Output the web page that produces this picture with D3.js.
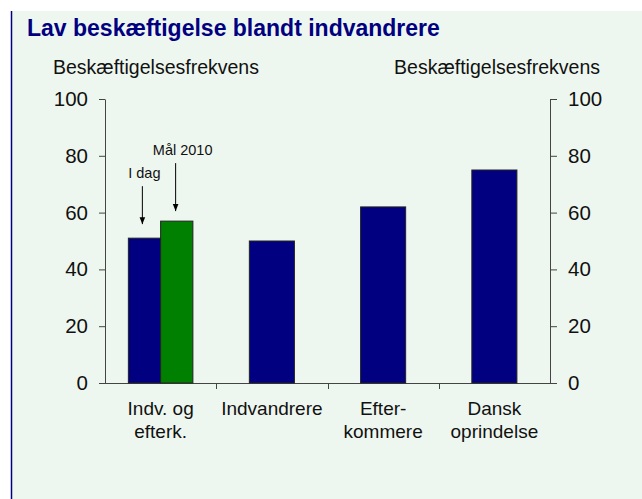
<!DOCTYPE html>
<html>
<head>
<meta charset="utf-8">
<script src="https://cdn.jsdelivr.net/npm/d3@7"></script>
<style>
  body { margin: 0; background: #fff; }
  text { font-family: Arial, "Liberation Sans", sans-serif; }
</style>
</head>
<body>
<div id="chart"></div>
<script>
const title = 'Lav beskæftigelse blandt indvandrere';
const axisTitle = 'Beskæftigelsesfrekvens';
const categories = ['idag', 'indv', 'efter', 'dansk'];
const categoryLines = [['Indv. og', 'efterk.'], ['Indvandrere'], ['Efter-', 'kommere'], ['Dansk', 'oprindelse']];
const todayValues = [51, 50, 62, 75];
const goalValues = [57, null, null, null];
const yTicks = [0, 20, 40, 60, 80, 100];
const todayLabel = 'I dag';
const goalLabel = 'Mål 2010';

const W = 642, H = 499;
const margin = { left: 105, right: 92, top: 99, bottom: 116 };
const width = W - margin.left - margin.right;
const height = H - margin.top - margin.bottom;

const svg = d3.select('#chart').append('svg')
  .attr('width', W)
  .attr('height', H);

// panel background + left frame line
svg.append('rect')
  .attr('x', 11).attr('y', 11)
  .attr('width', W - 11).attr('height', H - 11)
  .attr('fill', '#eef7ef');
svg.append('line')
  .attr('x1', 11.5).attr('x2', 11.5)
  .attr('y1', 11).attr('y2', H)
  .attr('stroke', '#000080').attr('stroke-width', 1.5);

svg.append('text')
  .attr('x', 27).attr('y', 36)
  .attr('font-size', '23px')
  .attr('font-weight', 'bold')
  .attr('fill', '#000080')
  .text(title);

svg.append('text')
  .attr('x', 53).attr('y', 74)
  .attr('font-size', '19.5px')
  .attr('fill', '#111')
  .text(axisTitle);

svg.append('text')
  .attr('x', 600).attr('y', 74)
  .attr('font-size', '19.5px')
  .attr('text-anchor', 'end')
  .attr('fill', '#111')
  .text(axisTitle);

const g = svg.append('g')
  .attr('transform', `translate(${margin.left}, ${margin.top})`);

const x = d3.scaleBand()
  .domain(categories)
  .range([0, width])
  .padding(0);

const y = d3.scaleLinear()
  .domain([0, 100])
  .range([height, 0]);

// left and right axes
const yLeft = g.append('g')
  .attr('class', 'y axis')
  .call(d3.axisLeft(y).tickValues(yTicks).tickSize(6).tickPadding(11).tickSizeOuter(0));

const yRight = g.append('g')
  .attr('class', 'y axis')
  .attr('transform', `translate(${width}, 0)`)
  .call(d3.axisRight(y).tickValues(yTicks).tickSize(7).tickPadding(11).tickSizeOuter(0));

[yLeft, yRight].forEach(ax => {
  ax.selectAll('text').attr('font-size', '20.5px').attr('fill', '#111').attr('font-family', 'Arial, "Liberation Sans", sans-serif');
  ax.selectAll('line').attr('stroke', '#444');
  ax.select('.domain').attr('stroke', '#444');
});

// x axis: line + separator ticks between categories
g.append('line')
  .attr('x1', 0).attr('x2', width)
  .attr('y1', height + 0.5).attr('y2', height + 0.5)
  .attr('stroke', '#444');

g.selectAll('.sep')
  .data(categories.slice(1))
  .enter()
  .append('line')
    .attr('class', 'sep')
    .attr('x1', d => Math.round(x(d)) + 0.5)
    .attr('x2', d => Math.round(x(d)) + 0.5)
    .attr('y1', height)
    .attr('y2', height + 6)
    .attr('stroke', '#444');

// category labels
const labels = g.selectAll('.xlabel')
  .data(categories)
  .enter()
  .append('text')
    .attr('class', 'xlabel')
    .attr('text-anchor', 'middle')
    .attr('font-size', '19px')
    .attr('fill', '#111')
    .attr('transform', d => `translate(${x(d) + x.bandwidth() / 2}, ${height + 32})`);

labels.selectAll('tspan')
  .data((d, i) => categoryLines[i])
  .enter()
  .append('tspan')
    .attr('x', 0)
    .attr('dy', (d, i) => i === 0 ? 0 : 23)
    .text(d => d);

// bars
const singleW = x.bandwidth() * 0.405;
const pairW = x.bandwidth() * 0.29;

const bars = categories.map((c, i) => {
  const cx = x(c) + x.bandwidth() / 2;
  if (goalValues[i] != null) {
    return [
      { key: 'today', x0: cx - pairW, w: pairW, v: todayValues[i], fill: '#000080' },
      { key: 'goal', x0: cx, w: pairW, v: goalValues[i], fill: '#008000' }
    ];
  }
  return [{ key: 'today', x0: cx - singleW / 2, w: singleW, v: todayValues[i], fill: '#000080' }];
}).flat();

g.selectAll('.bar')
  .data(bars)
  .enter()
  .append('rect')
    .attr('class', 'bar')
    .attr('x', d => d.x0)
    .attr('width', d => d.w)
    .attr('y', d => y(d.v))
    .attr('height', d => height - y(d.v))
    .attr('fill', d => d.fill)
    .attr('stroke', '#222')
    .attr('stroke-width', 1);

// annotations with arrows
svg.append('defs').append('marker')
  .attr('id', 'arrow')
  .attr('viewBox', '0 0 10 10')
  .attr('refX', 10).attr('refY', 5)
  .attr('markerWidth', 7).attr('markerHeight', 7)
  .attr('markerUnits', 'userSpaceOnUse')
  .attr('orient', 'auto')
  .append('path')
    .attr('d', 'M0,1 L10,5 L0,9 Z')
    .attr('fill', '#000');

const annots = bars.filter(b => b.key === 'today' && b.x0 < x(categories[1]))
  .map(b => ({ label: todayLabel, ax: b.x0 + 14, top: y(b.v) - 52, tip: y(b.v) - 14, tx: 2 }))
  .concat(bars.filter(b => b.key === 'goal')
    .map(b => ({ label: goalLabel, ax: b.x0 + 15, top: y(b.v) - 58, tip: y(b.v) - 10, tx: 7 })));

annots.forEach(a => {
  g.append('line')
    .attr('x1', a.ax).attr('x2', a.ax)
    .attr('y1', a.top).attr('y2', a.tip)
    .attr('stroke', '#000')
    .attr('stroke-width', 1)
    .attr('marker-end', 'url(#arrow)');
  g.append('text')
    .attr('x', a.ax + a.tx)
    .attr('y', a.top - 8)
    .attr('text-anchor', 'middle')
    .attr('font-size', '14.5px')
    .attr('fill', '#111')
    .text(a.label);
});
</script>
</body>
</html>
